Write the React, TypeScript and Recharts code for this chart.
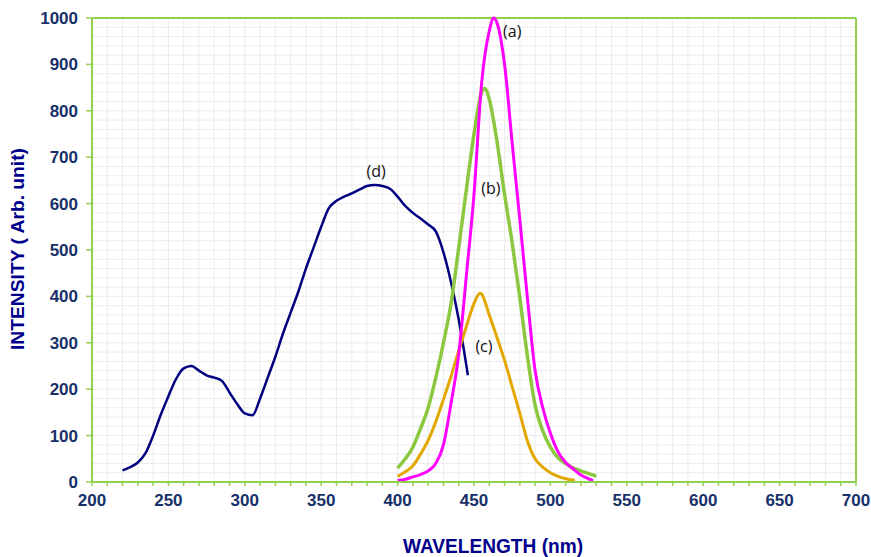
import React from "react";
import {
  LineChart,
  Line,
  XAxis,
  YAxis,
  CartesianGrid,
  ReferenceLine,
  ReferenceDot,
} from "recharts";

// curve (d): excitation-like band, navy
const WL_D = [220, 225, 230, 235, 240, 245, 250, 255, 260, 265, 270, 275, 280, 285, 290, 295, 300, 305, 310, 315, 320, 325, 330, 335, 340, 345, 350, 355, 360, 365, 370, 375, 380, 385, 390, 395, 400, 405, 410, 415, 420, 425, 430, 435, 440, 446];
const INT_D = [25, 32, 42, 62, 100, 145, 185, 222, 245, 250, 240, 230, 225, 218, 193, 168, 148, 144, 180, 225, 270, 320, 365, 410, 460, 505, 550, 590, 606, 615, 622, 630, 638, 640, 638, 632, 615, 595, 580, 568, 555, 540, 495, 430, 350, 230];

// curve (a): magenta
const WL_A = [400, 405, 410, 415, 420, 425, 430, 435, 440, 445, 450, 455, 460, 463, 465, 470, 475, 480, 485, 490, 495, 500, 505, 510, 515, 520, 525, 528];
const INT_A = [3, 6, 11, 16, 24, 40, 80, 170, 275, 445, 620, 860, 972, 1000, 990, 900, 730, 565, 395, 240, 160, 105, 65, 42, 28, 15, 7, 3];

// curve (b): green
const WL_B = [400, 405, 410, 415, 420, 425, 430, 435, 440, 445, 450, 455, 457, 460, 465, 470, 475, 480, 485, 490, 495, 500, 505, 510, 515, 520, 525, 530];
const INT_B = [30, 50, 75, 115, 160, 225, 300, 385, 505, 630, 750, 840, 848, 825, 735, 620, 515, 397, 270, 165, 110, 75, 52, 40, 30, 24, 18, 13];

// curve (c): orange
const WL_C = [400, 405, 410, 415, 420, 425, 430, 435, 440, 445, 450, 454, 455, 460, 465, 470, 475, 480, 485, 490, 495, 500, 505, 510, 516];
const INT_C = [12, 22, 35, 60, 90, 130, 178, 228, 283, 335, 385, 407, 405, 360, 312, 262, 205, 148, 88, 50, 32, 20, 12, 7, 4];

const X_TICKS = Array.from({ length: 51 }, (_, i) => 200 + i * 10);
const Y_TICKS = [0, 100, 200, 300, 400, 500, 600, 700, 800, 900, 1000];
const Y_GRID = Array.from({ length: 51 }, (_, i) => i * 20);

// curve tags: [text, wavelength, intensity]
const TAGS: [string, number, number][] = [
  ["(a)", 475, 972],
  ["(b)", 461, 634],
  ["(c)", 456.5, 293],
  ["(d)", 386, 670],
];

const zip = (xs: number[], ys: number[]) => xs.map((x, i) => ({ x, y: ys[i] }));

const AXIS_GREEN = "#92d050";
const TICK_COLOR = "#17306a";
const TITLE_COLOR = "#00008b";
const FONT = "'Liberation Sans', Arial, sans-serif";

export default function App() {
  return (
    <div style={{ position: "absolute", left: 0, top: 0, background: "#fff" }}>
      <LineChart
        width={871}
        height={557}
        margin={{ top: 18, right: 15, left: 32, bottom: 45 }}
      >
        <CartesianGrid
          stroke="#ececec"
          strokeWidth={1}
          verticalValues={X_TICKS}
          horizontalValues={Y_GRID}
        />
        <XAxis
          type="number"
          dataKey="x"
          domain={[200, 700]}
          ticks={X_TICKS}
          interval={0}
          allowDataOverflow
          tickFormatter={(v: number) => (v % 50 === 0 ? String(v) : "")}
          axisLine={{ stroke: AXIS_GREEN, strokeWidth: 2 }}
          tickLine={{ stroke: AXIS_GREEN, strokeWidth: 1.5 }}
          tickSize={4}
          tickMargin={8}
          height={30}
          tick={{ fill: TICK_COLOR, fontSize: 17, fontWeight: 700, fontFamily: FONT }}
        />
        <YAxis
          type="number"
          domain={[0, 1000]}
          ticks={Y_TICKS}
          interval={0}
          width={60}
          axisLine={{ stroke: AXIS_GREEN, strokeWidth: 2 }}
          tickLine={{ stroke: AXIS_GREEN, strokeWidth: 1.5 }}
          tickSize={6}
          tickMargin={8}
          tick={{ fill: TICK_COLOR, fontSize: 17, fontWeight: 700, fontFamily: FONT }}
        />
        <ReferenceLine y={1000} stroke={AXIS_GREEN} strokeWidth={2} />
        <ReferenceLine x={700} stroke={AXIS_GREEN} strokeWidth={2} />
        <Line
          data={zip(WL_D, INT_D)}
          dataKey="y"
          type="monotone"
          stroke="#000080"
          strokeWidth={2.5}
          dot={false}
          isAnimationActive={false}
        />
        <Line
          data={zip(WL_B, INT_B)}
          dataKey="y"
          type="monotone"
          stroke="#8cc83f"
          strokeWidth={3.5}
          dot={false}
          isAnimationActive={false}
        />
        <Line
          data={zip(WL_C, INT_C)}
          dataKey="y"
          type="monotone"
          stroke="#e2a800"
          strokeWidth={3}
          dot={false}
          isAnimationActive={false}
        />
        <Line
          data={zip(WL_A, INT_A)}
          dataKey="y"
          type="monotone"
          stroke="#ff00ff"
          strokeWidth={3}
          dot={false}
          isAnimationActive={false}
        />
        {TAGS.map(([t, x, y]) => (
          <ReferenceDot
            key={t}
            x={x}
            y={y}
            r={0}
            stroke="none"
            fill="none"
            label={{
              value: t,
              position: "center",
              fill: "#111",
              fontSize: 16,
              fontFamily: "'Open Sans', 'Noto Sans', sans-serif",
            }}
          />
        ))}
      </LineChart>
      <svg
        width={871}
        height={557}
        style={{ position: "absolute", left: 0, top: 0, pointerEvents: "none" }}
      >
        <text
          x={18}
          y={249}
          transform="rotate(-90 18 249)"
          textAnchor="middle"
          dominantBaseline="central"
          fill={TITLE_COLOR}
          fontSize={18}
          fontWeight={700}
          fontFamily={FONT}
          textLength={202}
          lengthAdjust="spacingAndGlyphs"
        >
          INTENSITY ( Arb. unit)
        </text>
        <text
          x={493}
          y={553}
          textAnchor="middle"
          fill={TITLE_COLOR}
          fontSize={20}
          fontWeight={700}
          fontFamily={FONT}
          textLength={180}
          lengthAdjust="spacingAndGlyphs"
        >
          WAVELENGTH (nm)
        </text>
      </svg>
    </div>
  );
}
